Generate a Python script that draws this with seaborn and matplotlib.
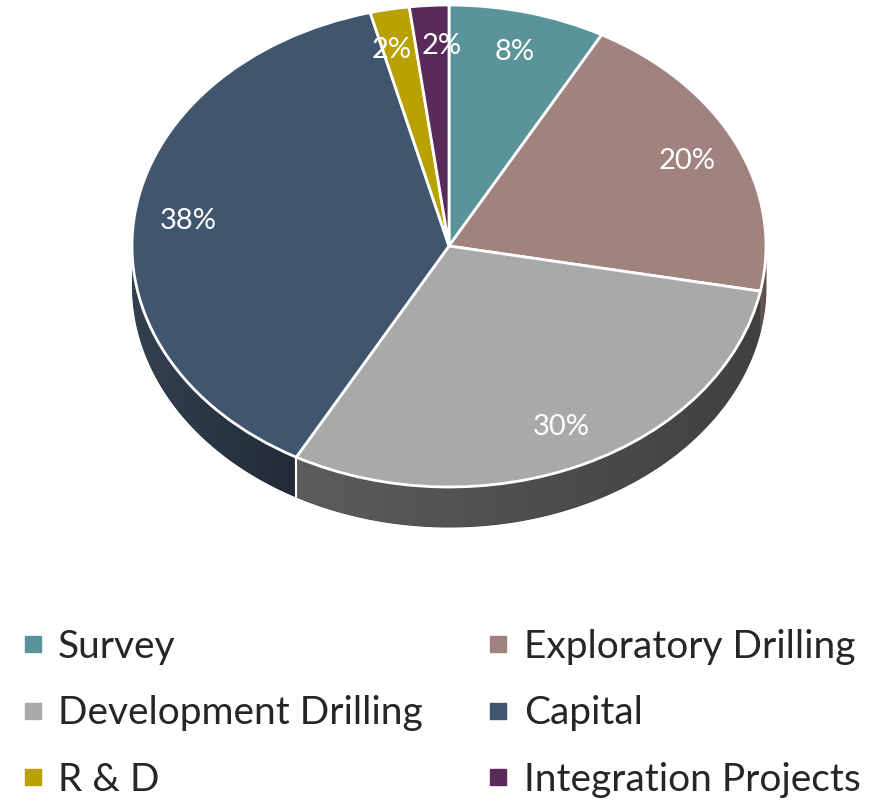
import numpy as np
import matplotlib.pyplot as plt
import seaborn as sns
from matplotlib.lines import Line2D
from matplotlib.colors import LinearSegmentedColormap

categories = ['Survey', 'Exploratory Drilling', 'Development Drilling',
              'Capital', 'R & D', 'Integration Projects']
shares = [8, 20, 30, 38, 2, 2]
top_colors = ['#5A9399', '#A0827F', '#A9A9A9', '#3F566E', '#B8A100', '#582B5A']
# side wall shading: (left end, right end)
side_colors = [('#3D6569', '#3D6569'), ('#6E5957', '#5E4B49'), ('#5C5C5C', '#404040'),
               ('#33414F', '#212B37'), ('#7A6B00', '#7A6B00'), ('#3A1C3B', '#3A1C3B')]

sns.set_theme(style='white')
plt.rcParams['font.family'] = ['Lato', 'DejaVu Sans']

W, H = 896, 802
fig = plt.figure(figsize=(W / 100, H / 100), dpi=100)
depth = 0.166
ax = fig.add_axes([132 / W, (H - 527) / H, 634 / W, 522 / H])

# side wall of the "3D" pie: only the front half is visible
edges = 90 - np.cumsum([0] + shares) / sum(shares) * 360
for i in range(len(shares)):
    lo, hi = max(edges[i + 1], -180), min(edges[i], 0)
    if lo >= hi:
        continue
    th = np.radians(np.linspace(lo, hi, 200))
    x, y = np.cos(th), np.sin(th)
    poly = ax.fill_between(x, y, y - depth, color=side_colors[i][1], lw=0)
    cmap = LinearSegmentedColormap.from_list('side', list(side_colors[i]))
    im = ax.imshow(np.linspace(0, 1, 64)[None, :], cmap=cmap, aspect='auto',
                   extent=(x.min(), x.max(), y.min() - depth, y.max()), zorder=1.5)
    im.set_clip_path(poly.get_paths()[0], transform=ax.transData)
for a in edges:
    if -180 < a < -20:
        r = np.radians(a)
        ax.plot([np.cos(r)] * 2, [np.sin(r), np.sin(r) - depth], color='white',
                lw=1.5, zorder=1.6)

wedges, texts, autotexts = ax.pie(
    shares, colors=top_colors, startangle=90, counterclock=False,
    wedgeprops=dict(edgecolor='white', linewidth=2),
    autopct=lambda p: f'{p:.0f}%', pctdistance=0.83,
    textprops=dict(color='white', fontsize=21))
for w in wedges:
    w.set_clip_on(False)
    w.set_zorder(2)
for t in autotexts:
    t.set_zorder(3)
# the two thin slices: spread their labels a little so they do not touch
autotexts[4].set_x(autotexts[4].get_position()[0] - 0.025)
autotexts[5].set_x(autotexts[5].get_position()[0] + 0.03)
ax.set_aspect('auto')
ax.set_xlim(-1, 1)
ax.set_ylim(-1 - depth, 1)
ax.axis('off')

order = [0, 2, 4, 1, 3, 5]
handles = [Line2D([], [], marker='s', ls='none', markersize=12,
                  color=top_colors[i]) for i in order]
fig.legend(handles, [categories[i] for i in order], ncol=2, loc='upper left',
           bbox_to_anchor=(-16 / W, 1 - 594 / H), frameon=False,
           prop=dict(size=28), handlelength=0.7,
           handletextpad=0.3, columnspacing=1.6, labelspacing=0.78)

fig.savefig('out.png', dpi=100)
